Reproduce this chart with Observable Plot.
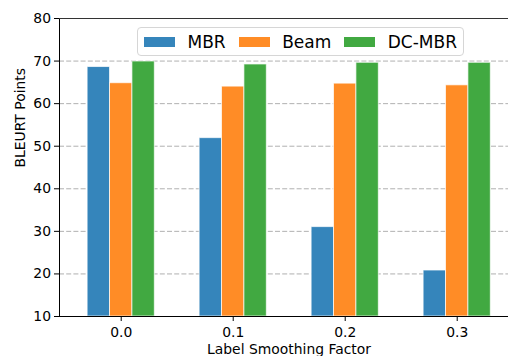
<!DOCTYPE html>
<html><head><meta charset="utf-8">
<script src="https://cdn.jsdelivr.net/npm/d3@7"></script>
<script src="https://cdn.jsdelivr.net/npm/@observablehq/plot@0.6"></script>
<style>
body{margin:0;background:#fff;overflow:hidden;font-family:"DejaVu Sans",sans-serif;}
#wrap{position:relative;width:508px;height:356px;overflow:hidden;}
#legend{position:absolute;left:137px;top:27px;width:319px;height:27px;border:1px solid #d6d6d6;border-radius:4px;background:rgba(255,255,255,0.8);display:flex;align-items:center;padding-left:6px;box-sizing:content-box;font-size:17px;color:#000;}
#legend .sw{width:31px;height:10px;margin-right:12.5px;flex:none;}
#legend .lb{margin-right:13px;white-space:nowrap;}
</style></head><body><div id="wrap"></div>
<script>
const factors = [0.0, 0.1, 0.2, 0.3];
const methods = ["MBR", "Beam", "DC-MBR"];
const mbr = [68.6, 51.9, 31.0, 20.8];
const beam = [64.8, 64.0, 64.7, 64.3];
const dcmbr = [69.9, 69.2, 69.6, 69.6];
const colors = ["#3585bb", "#ff8c26", "#41a941"];
const yTicks = [10, 20, 30, 40, 50, 60, 70, 80];
const gridTicks = [20, 30, 40, 50, 60, 70];
const xTicks = [0.0, 0.1, 0.2, 0.3];
const xLabel = "Label Smoothing Factor";
const yLabel = "BLEURT Points";

const series = [mbr, beam, dcmbr];
const barW = 0.02;
const rows = [];
factors.forEach((f, i) => {
  methods.forEach((m, j) => {
    rows.push({factor: f, method: m, value: series[j][i], idx: j});
  });
});

const fs = 13.9;
const chart = Plot.plot({
  width: 508,
  height: 356,
  marginLeft: 59,
  marginRight: 0,
  marginTop: 18,
  marginBottom: 40,
  style: {fontFamily: "DejaVu Sans", fontSize: fs + "px", color: "#000", background: "#fff"},
  x: {type: "linear", domain: [-0.0551, 0.3458]},
  y: {domain: [10, 80]},
  color: {domain: methods, range: colors},
  marks: [
    Plot.gridY(gridTicks, {stroke: "#b0b0b0", strokeOpacity: 1, strokeWidth: 1, strokeDasharray: "5,2.2"}),
    Plot.rect(rows, {
      x1: d => d.factor + (d.idx - 1) * barW - barW / 2,
      x2: d => d.factor + (d.idx - 1) * barW + barW / 2,
      y1: 10,
      y2: "value",
      fill: "method",
      stroke: "white",
      strokeOpacity: 0.7,
      strokeWidth: 1
    }),
    Plot.axisY({ticks: yTicks, tickSize: 5, tickPadding: 3.5, label: null, tickFormat: d => d.toString(), fontSize: fs, stroke: "#000"}),
    Plot.axisX({ticks: xTicks, tickSize: 5, tickPadding: 5.5, label: null, tickFormat: d => d.toFixed(1), fontSize: fs, stroke: "#000"}),
    Plot.ruleX([-0.0551], {stroke: "#000", strokeWidth: 1}),
    Plot.ruleY([10], {stroke: "#000", strokeWidth: 1}),
    Plot.ruleY([80], {stroke: "#333", strokeWidth: 1}),
    Plot.text([yLabel], {text: d => d, frameAnchor: "left", dx: -39, rotate: -90, fontSize: fs, fill: "#000"}),
    Plot.text([xLabel], {text: d => d, frameAnchor: "bottom", dx: 5, dy: 37, fontSize: fs, fill: "#000"})
  ]
});
const wrap = document.getElementById("wrap");
wrap.appendChild(chart);

const legend = document.createElement("div");
legend.id = "legend";
methods.forEach((m, j) => {
  const sw = document.createElement("span");
  sw.className = "sw";
  sw.style.background = colors[j];
  const lb = document.createElement("span");
  lb.className = "lb";
  lb.textContent = m;
  legend.appendChild(sw);
  legend.appendChild(lb);
});
wrap.appendChild(legend);
</script></body></html>
